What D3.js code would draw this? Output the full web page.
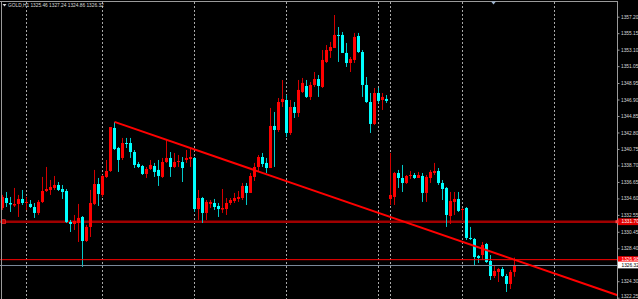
<!DOCTYPE html>
<html><head><meta charset="utf-8">
<script src="https://cdn.jsdelivr.net/npm/d3@7"></script>
<style>html,body{margin:0;padding:0;background:#000;overflow:hidden}</style>
</head><body><svg id="c" width="638" height="299"></svg>
<script>
// ---------------- data ----------------
const symbolTitle = "GOLD,H1";
const titleValues = ["1325.46", "1327.24", "1324.86", "1326.32"];

const opens = [1333.41,1334.65,1334.03,1333.72,1333.91,1334.53,1334.03,1333.91,1333.53,1332.79,
1334.16,1335.52,1335.65,1335.90,1336.27,1335.77,1335.52,1331.67,1331.42,1331.54,
1332.29,1329.30,1331.05,1333.91,1336.39,1335.03,1337.27,1338.01,1343.36,1340.87,
1339.63,1341.49,1341.49,1340.37,1338.88,1338.63,1337.64,1338.26,1338.63,1338.14,
1337.27,1339.13,1339.63,1338.51,1339.13,1339.13,1339.38,1339.50,1339.63,1333.28,
1334.65,1332.79,1333.91,1334.03,1333.66,1333.22,1333.28,1334.03,1334.28,1334.53,
1334.65,1336.15,1335.28,1337.27,1338.51,1339.75,1339.01,1338.38,1343.61,1343.11,
1346.59,1346.84,1342.74,1345.97,1345.23,1347.84,1348.58,1347.22,1348.71,1349.45,
1348.46,1351.57,1352.94,1353.31,1354.93,1354.93,1352.69,1351.44,1351.82,1354.80,
1352.81,1348.71,1346.59,1343.86,1347.71,1346.84,1346.97,1334.53,1334.78,1337.76,
1337.14,1336.52,1337.39,1337.51,1337.14,1337.39,1335.28,1337.14,1337.76,1338.01,
1336.52,1335.90,1332.41,1334.16,1334.53,1333.16,1333.41,1329.68,1329.55,1327.44,
1327.56,1328.93,1326.82,1324.95,1325.45,1325.82,1324.95,1323.96,1325.46];

const highs = [1335.03,1335.40,1334.78,1335.90,1335.03,1335.65,1334.78,1334.40,1334.03,1334.40,
1337.27,1338.51,1336.89,1337.39,1336.64,1336.27,1335.77,1331.92,1332.54,1333.91,
1332.41,1331.30,1335.65,1338.14,1337.14,1337.51,1339.38,1343.48,1344.11,1341.00,
1342.12,1342.12,1342.12,1340.62,1339.13,1338.76,1338.51,1339.38,1339.01,1339.38,
1339.63,1341.87,1340.37,1340.25,1340.00,1339.75,1340.62,1340.87,1339.75,1335.65,
1334.78,1334.40,1334.40,1334.53,1334.03,1335.77,1334.65,1334.65,1335.28,1335.52,
1336.52,1336.52,1337.76,1339.01,1340.00,1340.25,1339.63,1345.85,1345.35,1347.09,
1349.33,1347.46,1346.84,1346.59,1349.33,1349.58,1349.33,1349.08,1350.32,1349.95,
1353.06,1353.68,1354.06,1357.41,1355.92,1355.30,1353.93,1352.19,1355.18,1355.18,
1353.06,1349.70,1347.71,1348.33,1348.33,1347.71,1347.46,1340.25,1337.89,1338.14,
1338.76,1337.51,1338.01,1337.76,1337.89,1337.76,1337.51,1338.14,1339.01,1338.38,
1336.89,1336.02,1335.40,1335.40,1335.40,1333.41,1333.53,1331.05,1329.68,1327.56,
1329.18,1329.06,1327.56,1326.32,1325.95,1326.07,1325.20,1325.70,1327.24];

const lows = [1333.16,1333.53,1332.91,1333.53,1332.29,1333.78,1333.16,1333.41,1332.17,1332.54,
1334.03,1335.40,1335.03,1335.65,1335.52,1334.53,1331.54,1330.42,1330.67,1329.18,
1326.07,1329.18,1329.80,1333.78,1333.66,1334.78,1337.14,1337.89,1340.62,1337.89,
1339.38,1340.87,1339.63,1338.38,1338.38,1337.51,1337.14,1338.14,1337.27,1336.15,
1337.14,1339.01,1337.27,1338.38,1338.51,1336.64,1339.01,1338.51,1332.91,1331.92,
1331.54,1331.92,1333.41,1333.16,1332.29,1332.79,1332.54,1333.78,1334.03,1334.16,
1334.40,1333.78,1335.28,1336.77,1337.89,1338.51,1337.76,1338.38,1338.51,1342.86,
1345.97,1342.24,1342.49,1344.60,1344.73,1347.71,1347.09,1346.84,1348.46,1347.22,
1348.33,1351.44,1352.07,1353.31,1351.57,1352.69,1350.95,1350.32,1351.44,1352.69,
1347.22,1346.47,1342.74,1343.73,1346.47,1345.60,1346.47,1333.78,1333.78,1335.90,
1335.40,1336.39,1337.02,1337.02,1337.14,1334.16,1334.16,1336.52,1337.51,1336.27,
1334.40,1331.05,1331.42,1332.54,1332.91,1331.92,1329.43,1329.43,1326.20,1326.57,
1326.94,1326.57,1324.45,1324.70,1324.20,1324.83,1322.96,1323.33,1324.86];

const closes = [1334.78,1334.03,1333.85,1333.91,1334.53,1334.03,1334.16,1333.53,1332.79,1334.16,
1335.52,1335.77,1336.02,1336.27,1335.65,1335.40,1331.67,1331.42,1331.79,1332.17,
1329.30,1331.05,1334.03,1336.39,1335.15,1337.39,1338.01,1343.48,1340.75,1339.38,
1341.49,1341.37,1340.37,1338.76,1338.51,1337.64,1338.26,1338.76,1337.89,1337.39,
1339.13,1339.63,1338.51,1339.13,1339.25,1338.38,1339.63,1339.75,1333.28,1334.65,
1332.79,1334.16,1334.16,1333.53,1333.28,1333.41,1334.03,1334.40,1334.65,1334.78,
1336.15,1335.28,1337.39,1338.51,1339.75,1338.88,1338.38,1343.61,1343.11,1346.59,
1346.97,1342.74,1345.97,1345.23,1348.09,1348.96,1347.22,1348.71,1349.45,1348.58,
1351.82,1353.06,1353.43,1354.93,1354.80,1352.69,1351.44,1351.94,1354.68,1352.81,
1348.71,1346.59,1343.86,1347.71,1346.72,1347.22,1346.72,1335.03,1337.76,1337.14,
1336.52,1337.39,1337.51,1337.14,1337.51,1335.28,1337.27,1337.89,1338.01,1336.52,
1335.77,1332.54,1334.28,1334.53,1333.04,1333.28,1329.68,1329.55,1327.31,1327.19,
1328.81,1326.69,1324.95,1325.57,1325.82,1324.95,1323.96,1325.45,1326.32];

const separatorBars = [6, 25, 48, 71, 94, 97, 115, 138];

const tickValues = [1357.20,1355.15,1353.10,1351.05,1348.95,1346.90,1344.85,1342.80,1340.75,
1338.70,1336.65,1334.60,1332.55,1330.45,1328.40,1326.35,1324.30,1322.25];
const tickLabels = ["1357.20","1355.15","1353.10","1351.05","1348.95","1346.90","1344.85","1342.80","1340.75",
"1338.70","1336.65","1334.60","1332.55","1330.45","1328.40","1326.35","1324.30","1322.25"];

const levelPrice = 1331.70;   // horizontal line object
const askPrice = 1326.98;
const bidPrice = 1326.32;
const trendBars = [28, 128];
const trendPrices = [1344.12, 1326.97];

// ---------------- drawing ----------------
const W = 638, H = 299, AX = 617.5;
const svg = d3.select("#c");
svg.append("rect").attr("width", W).attr("height", H).attr("fill", "#000");

const x = d3.scaleLinear().domain([0, 1]).range([2.5, 6.5]);
const y = d3.scaleLinear().domain([1322.25, 1357.20]).range([297.7, 16.7]);

svg.append("defs").append("clipPath").attr("id", "plot")
  .append("rect").attr("x", 0).attr("y", 1.5).attr("width", AX).attr("height", H);

const plot = svg.append("g").attr("clip-path", "url(#plot)");

// period separators
plot.selectAll("line.sep").data(separatorBars).join("line")
  .attr("class", "sep")
  .attr("x1", d => Math.round(x(d)) - 0.5).attr("x2", d => Math.round(x(d)) - 0.5)
  .attr("y1", 2).attr("y2", H)
  .attr("stroke", "#a8a8a8").attr("stroke-width", 1).attr("stroke-dasharray", "2,2");

// left edge line
svg.append("line").attr("x1", 1.5).attr("x2", 1.5).attr("y1", 1).attr("y2", H)
  .attr("stroke", "#9a9a9a").attr("stroke-width", 1);

// horizontal level (dark red)
plot.append("line").attr("x1", 0).attr("x2", AX)
  .attr("y1", y(levelPrice)).attr("y2", y(levelPrice))
  .attr("stroke", "#a00000").attr("stroke-width", 2.4);
plot.append("rect").attr("x", 1.5).attr("y", y(levelPrice) - 2).attr("width", 4).attr("height", 4)
  .attr("fill", "#c00000").attr("stroke", "#ff3030").attr("stroke-width", 0.6);

// candles
const idx = d3.range(opens.length);
const up = i => closes[i] >= opens[i];
const bodyCol = i => up(i) ? "#ff0000" : "#00ffff";
const wickCol = i => up(i) ? "#d40000" : "#00c8c8";

plot.selectAll("line.wick").data(idx).join("line")
  .attr("class", "wick")
  .attr("x1", i => x(i)).attr("x2", i => x(i))
  .attr("y1", i => y(highs[i])).attr("y2", i => y(lows[i]))
  .attr("stroke", wickCol).attr("stroke-width", 1);

plot.selectAll("rect.body").data(idx).join("rect")
  .attr("class", "body")
  .attr("x", i => x(i) - 1.5).attr("width", 3)
  .attr("y", i => y(Math.max(opens[i], closes[i])))
  .attr("height", i => Math.max(1, Math.abs(y(opens[i]) - y(closes[i]))))
  .attr("fill", bodyCol);

// ask / bid lines
plot.append("line").attr("x1", 0).attr("x2", AX)
  .attr("y1", y(askPrice)).attr("y2", y(askPrice))
  .attr("stroke", "#ff0000").attr("stroke-width", 1);
plot.append("line").attr("x1", 0).attr("x2", AX)
  .attr("y1", Math.round(y(bidPrice)) + 0.5).attr("y2", Math.round(y(bidPrice)) + 0.5)
  .attr("stroke", "#7a8899").attr("stroke-width", 1);

// trend line (extended as a ray to the right edge)
const slope = (y(trendPrices[1]) - y(trendPrices[0])) / (x(trendBars[1]) - x(trendBars[0]));
const tx0 = x(trendBars[0]), ty0 = y(trendPrices[0]);
plot.append("line")
  .attr("x1", tx0).attr("y1", ty0)
  .attr("x2", AX + 5).attr("y2", ty0 + slope * (AX + 5 - tx0))
  .attr("stroke", "#ff0000").attr("stroke-width", 2);

// frame
svg.append("line").attr("x1", 0).attr("x2", AX).attr("y1", 1.5).attr("y2", 1.5)
  .attr("stroke", "#9a9a9a").attr("stroke-width", 1);
svg.append("line").attr("x1", AX).attr("x2", AX).attr("y1", 1).attr("y2", H)
  .attr("stroke", "#9a9a9a").attr("stroke-width", 1);

// shift marker
svg.append("path").attr("d", "M491,1.5 L496,1.5 L493.5,4.5 Z").attr("fill", "#9db4d0");

// price axis
const axis = d3.axisRight(y).tickValues(tickValues)
  .tickFormat((d, i) => tickLabels[i]).tickSizeInner(2).tickSizeOuter(0).tickPadding(1.5);
const ag = svg.append("g").attr("transform", `translate(${AX},0)`).call(axis);
ag.select(".domain").remove();
ag.selectAll(".tick line").attr("stroke", "#9a9a9a");
ag.selectAll(".tick text").attr("fill", "#d8d8d8")
  .attr("font-family", "Liberation Sans, Arial, sans-serif").attr("font-size", 4.8)
  .attr("dy", (d, i) => i === tickValues.length - 1 ? "-0.05em" : "0.32em");

// price labels on the axis
function priceTag(price, bg, fg, txt) {
  const g = svg.append("g").attr("transform", `translate(${AX + 0.5},${y(price)})`);
  g.append("rect").attr("x", 0).attr("y", -3.4).attr("width", 21).attr("height", 6.8).attr("fill", bg);
  g.append("text").attr("x", 3.5).attr("y", 0).attr("dy", "0.35em").attr("fill", fg)
    .attr("font-family", "Liberation Sans, Arial, sans-serif").attr("font-size", 4.8).text(txt);
}
priceTag(levelPrice, "#e00000", "#ffffff", levelPrice.toFixed(2));
priceTag(askPrice, "#ff0000", "#ffffff", askPrice.toFixed(2));
priceTag(bidPrice, "#ffffff", "#000000", bidPrice.toFixed(2));
svg.append("rect").attr("x", AX - 2).attr("y", y(levelPrice) - 1.5).attr("width", 3).attr("height", 3).attr("fill", "#ff4040");

// title
svg.append("path").attr("d", "M2.5,4 L6.5,4 L4.5,6.5 Z").attr("fill", "#d8d8d8");
svg.append("text").attr("x", 8).attr("y", 7.2).attr("fill", "#d8d8d8")
  .attr("font-family", "Liberation Sans, Arial, sans-serif").attr("font-size", 4.8)
  .text(symbolTitle + "  " + titleValues.join(" "));
</script></body></html>
